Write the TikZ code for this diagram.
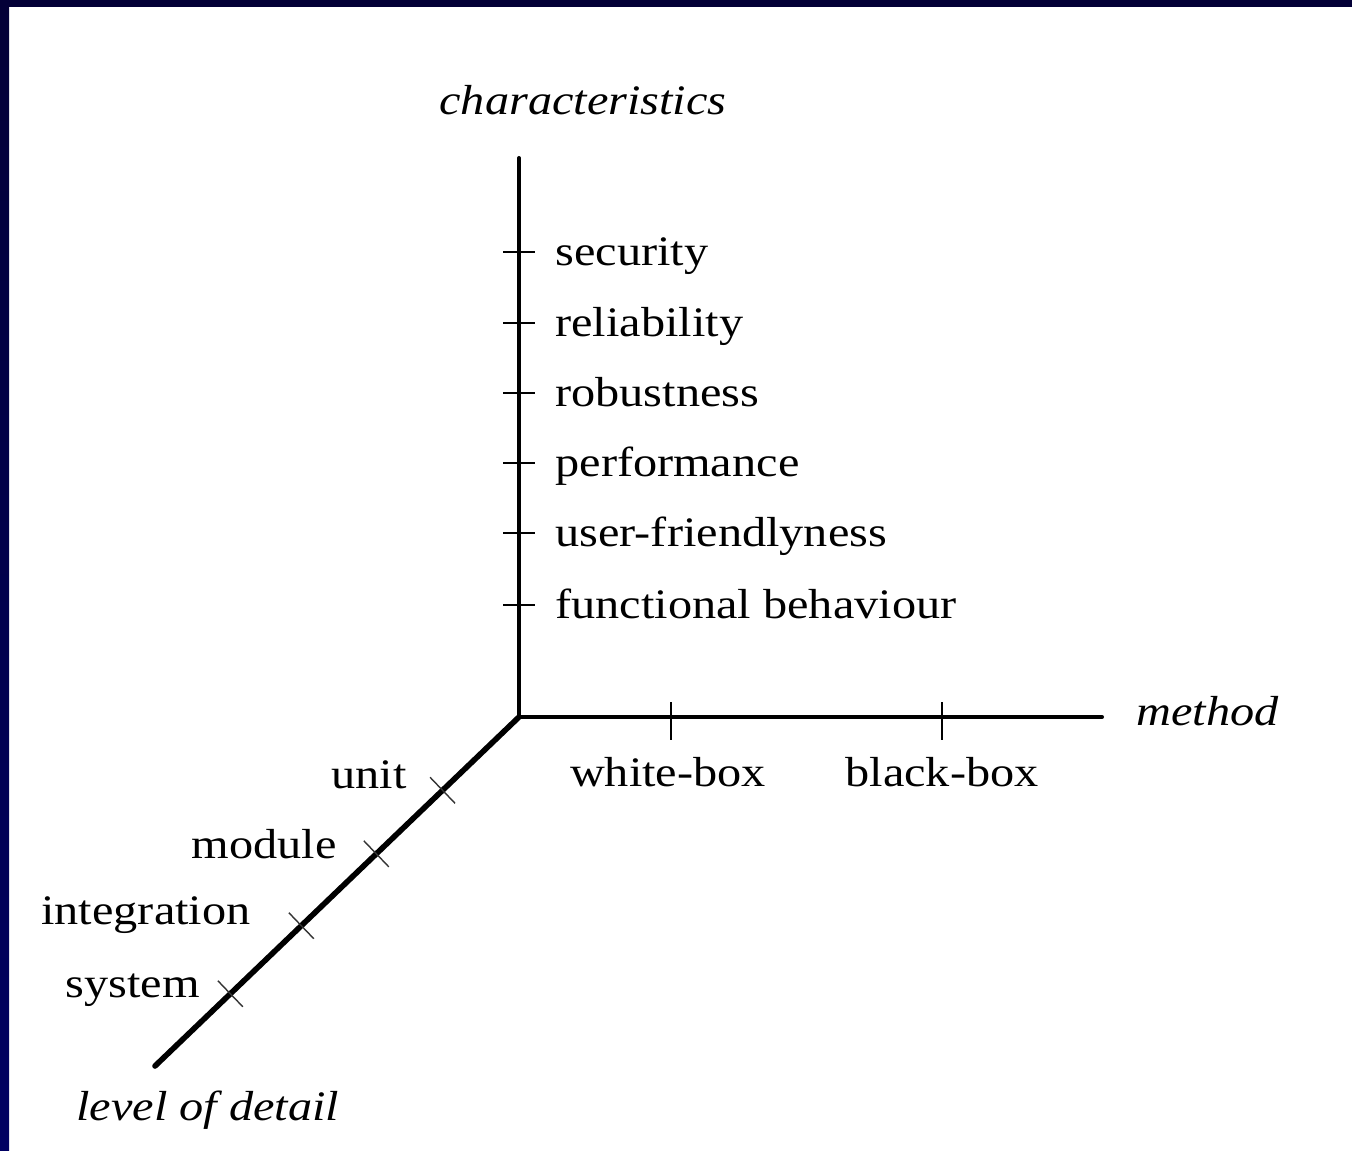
\documentclass[tikz,border=0pt]{standalone}
\usepackage{graphicx}
\usepackage{fontspec}
\setmainfont{Liberation Serif}
\usetikzlibrary{calc}
\definecolor{frameTop}{RGB}{3,0,55}
\definecolor{frameBot}{RGB}{0,0,98}
% labels are set slightly wide
\newcommand\axlabel[1]{\scalebox{1.15}[1]{#1}}
\begin{document}
\begin{tikzpicture}[x=0.5pt,y=-0.5pt,
  axis/.style={line width=2pt,line cap=round},
  diagaxis/.style={line width=2.8pt,line cap=round},
  tickmark/.style={line width=0.9pt},
  ticklight/.style={line width=0.7pt,black!80},
  lbl/.style={inner sep=0pt,font=\fontsize{21}{25}\selectfont},
  ilbl/.style={lbl,font=\fontsize{21}{25}\selectfont\itshape}]
  \useasboundingbox (0,0) rectangle (1352,1150);
  \fill[white] (0,0) rectangle (1352,1150);
  % dark frame along the top and left edges
  \fill[frameTop] (0,0) rectangle (1352,7);
  \shade[top color=frameTop,bottom color=frameBot] (0,0) rectangle (9,1150);

  % axes
  \coordinate (O) at (519,717);
  \coordinate (ctop) at (519,158);
  \coordinate (mend) at (1102,717);
  \coordinate (dend) at (155,1066);
  \draw[axis] (O) -- (ctop);
  \draw[axis] (O) -- (mend);
  \draw[diagaxis] (O) -- (dend);

  % characteristics axis: ticks and labels
  \foreach \n/\yy/\txt in {sec/252/security, rel/323/reliability,
      rob/393/robustness, perf/463/performance,
      user/533/user-friendlyness, func/605/functional behaviour}{
    \coordinate (t\n) at (519,\yy);
    \draw[tickmark] ([xshift=-8pt]t\n) -- ([xshift=8pt]t\n);
    \node[lbl,anchor=base west] (l\n) at (555,\yy+13) {\axlabel{\txt}};
  }
  \node[ilbl,anchor=base] (lchar) at (583,115) {\axlabel{characteristics}};

  % method axis: ticks and labels
  \coordinate (twb) at (671,717);
  \coordinate (tbb) at (942,717);
  \draw[tickmark] ([yshift=7.5pt]twb) -- ([yshift=-11.5pt]twb);
  \draw[tickmark] ([yshift=7.5pt]tbb) -- ([yshift=-11.5pt]tbb);
  \node[lbl,anchor=base] (lwb) at (668,786) {\axlabel{white-box}};
  \node[lbl,anchor=base] (lbb) at (942,786) {\axlabel{black-box}};
  \node[ilbl,anchor=base west] (lmeth) at (1136,725) {\axlabel{method}};

  % level-of-detail axis: ticks and labels
  \foreach \n/\t in {unit/0.21, mod/0.392, integ/0.598, sys/0.793}{
    \coordinate (d\n) at ($(O)!\t!(dend)$);
    \draw[ticklight] ($(d\n)!9pt!90:(O)$) -- ($(d\n)!9pt!-90:(O)$);
  }
  \node[lbl,anchor=base east] (lunit) at (407,788) {\axlabel{unit}};
  \node[lbl,anchor=base east] (lmod) at (337,858) {\axlabel{module}};
  \node[lbl,anchor=base east] (linteg) at (251,924) {\axlabel{integration}};
  \node[lbl,anchor=base east] (lsys) at (200,997) {\axlabel{system}};
  \node[ilbl,anchor=base west] (llev) at (76,1120) {\axlabel{level of detail}};
\end{tikzpicture}
\end{document}
